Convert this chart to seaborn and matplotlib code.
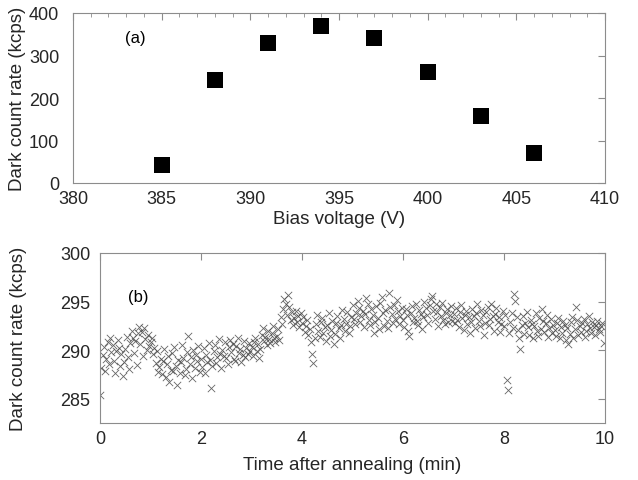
import numpy as np
import pandas as pd
import matplotlib
matplotlib.use("Agg")
import matplotlib.pyplot as plt
from matplotlib.ticker import MultipleLocator
import seaborn as sns

# ---- panel (a) data ----
bias_voltage = [385, 388, 391, 394, 397, 400, 403, 406]
dark_rate_a = [43, 242, 330, 369, 342, 261, 157, 70]

# ---- panel (b) data: dark count rate vs time, one row per minute (0.025 min spacing) ----
rate_min0 = [285.4, 288.2, 289.5, 290.3, 287.9, 289.1, 290.8, 288.6, 291.2, 289.8,
             290.5, 288.9, 287.6, 289.9, 291.0, 290.2, 288.4, 289.6, 287.3, 288.8,
             290.1, 291.4, 289.3, 288.1, 290.7, 292.0, 291.3, 289.7, 290.9, 288.5,
             291.8, 292.4, 290.6, 291.9, 289.4, 292.3, 291.1, 290.0, 291.6, 290.4]
rate_min1 = [290.8, 291.3, 289.6, 290.2, 288.7, 289.9, 287.8, 288.3, 289.1, 287.5,
             288.9, 290.1, 287.2, 288.6, 289.4, 286.7, 288.0, 289.7, 287.9, 290.3,
             288.4, 286.4, 289.0, 287.6, 288.8, 290.5, 289.2, 287.4, 288.1, 289.8,
             291.5, 288.6, 289.3, 287.1, 290.0, 288.2, 289.5, 288.9, 290.4, 287.8]
rate_min2 = [289.1, 288.3, 290.2, 287.6, 289.5, 288.8, 290.7, 289.0, 286.1, 288.4,
             289.9, 290.5, 288.7, 289.3, 291.1, 289.6, 288.2, 290.0, 289.4, 290.8,
             289.2, 288.6, 290.3, 291.0, 289.8, 290.6, 289.1, 288.9, 290.4, 291.3,
             289.7, 290.1, 288.8, 289.5, 290.9, 289.3, 290.2, 289.6, 290.7, 289.9]
rate_min3 = [290.3, 289.4, 290.8, 291.2, 289.9, 290.6, 289.2, 290.1, 291.6, 292.3,
             290.9, 291.4, 290.5, 292.0, 291.1, 290.7, 291.8, 292.5, 291.3, 290.8,
             291.5, 292.2, 291.0, 293.4, 292.7, 294.2, 295.3, 294.8, 293.6, 295.7,
             294.4, 293.1, 293.9, 292.6, 293.3, 294.0, 292.9, 293.5, 292.4, 293.8]
rate_min4 = [292.8, 293.4, 291.9, 292.5, 293.1, 291.6, 292.2, 290.8, 289.6, 288.7,
             291.3, 292.7, 293.6, 292.0, 291.4, 292.9, 293.3, 291.8, 292.4, 290.9,
             292.6, 293.8, 291.5, 292.1, 293.0, 290.6, 291.7, 292.8, 293.5, 292.3,
             291.2, 292.6, 294.1, 293.2, 292.0, 292.7, 293.9, 291.8, 292.5, 293.4]
rate_min5 = [294.6, 293.2, 292.7, 293.8, 295.1, 294.3, 292.9, 293.5, 294.0, 292.4,
             293.7, 295.4, 294.8, 293.1, 292.6, 294.2, 293.6, 291.8, 292.9, 294.5,
             293.3, 292.2, 294.9, 295.5, 293.8, 292.5, 294.1, 293.0, 292.3, 295.9,
             294.4, 293.7, 292.8, 294.6, 293.2, 295.2, 294.0, 292.7, 293.5, 294.3]
rate_min6 = [293.1, 292.4, 294.2, 293.6, 292.0, 291.5, 293.8, 294.5, 292.9, 293.3,
             294.8, 293.0, 292.6, 294.1, 293.7, 292.2, 293.4, 295.0, 294.3, 293.6,
             292.8, 294.6, 295.3, 295.6, 294.0, 293.2, 294.7, 293.9, 292.5, 294.4,
             293.5, 294.9, 293.1, 292.7, 293.8, 294.2, 292.9, 293.6, 294.5, 293.0]
rate_min7 = [293.7, 292.8, 294.3, 293.1, 292.4, 293.9, 294.6, 293.3, 292.1, 293.6,
             294.0, 292.7, 293.4, 291.8, 292.9, 294.2, 293.5, 292.3, 293.8, 294.7,
             293.0, 292.5, 294.1, 293.6, 291.6, 292.8, 293.9, 294.4, 292.6, 293.2,
             294.8, 293.5, 292.0, 293.7, 294.3, 292.9, 293.4, 291.9, 292.7, 294.0]
rate_min8 = [292.5, 293.6, 286.9, 285.9, 291.8, 292.9, 293.8, 292.3, 295.8, 295.1,
             293.4, 292.1, 291.2, 290.1, 292.6, 293.5, 291.7, 292.8, 293.9, 292.4,
             291.6, 293.1, 292.7, 291.3, 292.5, 293.8, 292.0, 291.5, 293.3, 292.2,
             294.2, 293.0, 291.9, 292.8, 293.6, 291.4, 292.3, 293.2, 291.8, 292.6]
rate_min9 = [292.1, 291.5, 292.8, 293.3, 291.2, 292.4, 291.8, 293.0, 292.6, 291.0,
             292.3, 290.6, 291.7, 292.9, 293.4, 291.3, 292.2, 294.4, 293.1, 291.6,
             292.5, 291.9, 292.8, 293.2, 291.4, 292.0, 292.7, 293.5, 292.3, 291.8,
             292.9, 292.4, 291.6, 292.6, 293.0, 292.2, 291.9, 292.5, 292.8, 290.7]

rate_b = (rate_min0 + rate_min1 + rate_min2 + rate_min3 + rate_min4 +
          rate_min5 + rate_min6 + rate_min7 + rate_min8 + rate_min9)
sample_interval_min = 0.025
time_b = [i * sample_interval_min for i in range(len(rate_b))]

df_a = pd.DataFrame({"V": bias_voltage, "rate": dark_rate_a})
df_b = pd.DataFrame({"t": time_b, "rate": rate_b})

sns.set_style("white")
plt.rcParams["font.family"] = ["Liberation Sans", "DejaVu Sans"]
plt.rcParams["font.size"] = 12

W, H = 638, 481
fig = plt.figure(figsize=(W / 100, H / 100), dpi=100)

def ax_rect(l, t, r, b):
    return [l / W, 1 - b / H, (r - l) / W, (b - t) / H]

spine_col = "#8c8c8c"
text_col = "#262626"

box1 = (73, 14, 605, 184)
box2 = (100, 254, 605, 424)
ax1 = fig.add_axes(ax_rect(*box1))
ax2 = fig.add_axes(ax_rect(*box2))

sns.scatterplot(data=df_a, x="V", y="rate", ax=ax1, marker="s", s=125,
                color="black", edgecolor="black", linewidth=0)
sns.scatterplot(data=df_b, x="t", y="rate", ax=ax2, marker="x", s=28,
                color="#4a4a4a", linewidth=0.6, alpha=0.85)

ax1.set_xlim(380, 410)
ax1.set_ylim(0, 400)
ax1.xaxis.set_major_locator(MultipleLocator(5))
ax1.xaxis.set_minor_locator(MultipleLocator(1))
ax1.yaxis.set_major_locator(MultipleLocator(100))
ax1.set_xlabel("Bias voltage (V)", color=text_col, fontsize=13.5)
ax1.set_ylabel("Dark count rate (kcps)", color=text_col, fontsize=13.5)
ax1.text(0.098, 0.83, "(a)", transform=ax1.transAxes, fontsize=12, color="black")

ax2.set_xlim(0, 10)
ax2.set_ylim(282.5, 300)
ax2.xaxis.set_major_locator(MultipleLocator(2))
ax2.yaxis.set_major_locator(MultipleLocator(5))
ax2.set_xlabel("Time after annealing (min)", color=text_col, fontsize=13.5)
ax2.set_ylabel("Dark count rate (kcps)", color=text_col, fontsize=13.5)
ax2.text(0.055, 0.72, "(b)", transform=ax2.transAxes, fontsize=12, color="black")

for ax, (l, t, r, b), xl_y in ((ax1, box1, 219), (ax2, box2, 466)):
    ax.xaxis.set_label_coords(0.5, -(xl_y - b) / (b - t))
    ax.yaxis.set_label_coords(-(l - 18) / (r - l), 0.5)
    ax.xaxis.label.set_va("center")
    ax.yaxis.label.set_va("center")

for ax in (ax1, ax2):
    for sp in ax.spines.values():
        sp.set_visible(True)
        sp.set_color(spine_col)
        sp.set_linewidth(0.8)
    ax.tick_params(which="both", direction="in", top=True, right=True,
                   color=spine_col, labelcolor=text_col, labelsize=13)
    ax.tick_params(which="major", length=5, width=0.8)
    ax.tick_params(which="minor", length=3, width=0.6)
    ax.tick_params(axis="x", pad=5)
ax1.tick_params(axis="y", pad=10)
ax2.tick_params(axis="y", pad=7)

fig.savefig("out.png", dpi=100)
